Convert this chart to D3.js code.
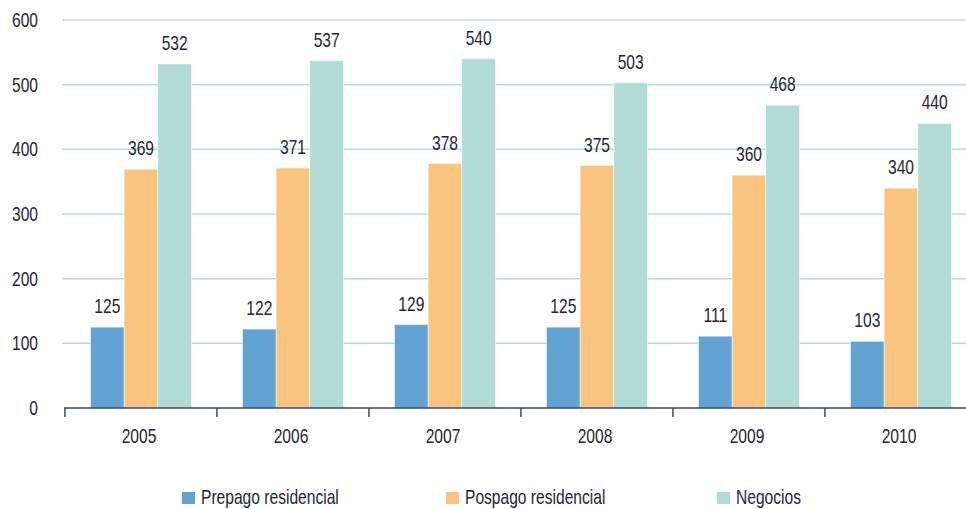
<!DOCTYPE html>
<html>
<head>
<meta charset="utf-8">
<script src="https://cdn.jsdelivr.net/npm/d3@7"></script>
<style>
  body { margin: 0; background: #fff; }
  svg text { font-family: "Liberation Sans", Arial, sans-serif; fill: #1f2633; font-size: 20px; }
</style>
</head>
<body>
<div id="chart"></div>
<script>
// datos
const years = ["2005", "2006", "2007", "2008", "2009", "2010"];
const seriesNames = ["Prepago residencial", "Pospago residencial", "Negocios"];
const prepago = [125, 122, 129, 125, 111, 103];
const pospago = [369, 371, 378, 375, 360, 340];
const negocios = [532, 537, 540, 503, 468, 440];
const yTicks = [0, 100, 200, 300, 400, 500, 600];

const colors = ["#63a3d3", "#f9c47f", "#b1dbd4"];
const values = [prepago, pospago, negocios];

const width = 966, height = 509;
const narrow = 0.78; // simula una fuente condensada

const svg = d3.select("#chart").append("svg")
    .attr("width", width)
    .attr("height", height);

// texto condensado: posicion con translate + scale horizontal
function place(sel, fx, fy) {
    return sel.attr("transform", (d, i) => `translate(${fx(d, i)},${fy(d, i)}) scale(${narrow},1)`);
}

// escalas
const x = d3.scaleBand()
    .domain(years)
    .range([65, 977])
    .padding(0);

const xInner = d3.scaleBand()
    .domain(seriesNames)
    .range([25.5, x.bandwidth() - 25.5])
    .padding(0);

const y = d3.scaleLinear()
    .domain([0, 600])
    .range([408, 20]);

// lineas de la grilla
svg.append("g")
    .selectAll("line")
    .data(yTicks.filter(d => d > 0))
    .enter().append("line")
    .attr("x1", 62)
    .attr("x2", width)
    .attr("y1", d => y(d))
    .attr("y2", d => y(d))
    .attr("stroke", "#b3ded7")
    .attr("stroke-width", 1.5);

// eje y (solo etiquetas)
place(svg.append("g")
    .selectAll("text")
    .data(yTicks)
    .enter().append("text")
    .attr("dy", "0.35em")
    .attr("text-anchor", "end")
    .text(d => d), () => 38, d => y(d));

// barras
const groups = svg.append("g")
    .selectAll("g")
    .data(years)
    .enter().append("g")
    .attr("transform", d => `translate(${x(d)},0)`);

groups.each(function (year, i) {
    const g = d3.select(this);
    seriesNames.forEach((name, s) => {
        const v = values[s][i];
        g.append("rect")
            .attr("x", xInner(name))
            .attr("y", y(v))
            .attr("width", xInner.bandwidth())
            .attr("height", y(0) - y(v))
            .attr("fill", colors[s])
            .attr("stroke", "rgba(255,255,255,0.45)")
            .attr("stroke-width", 1);

        g.append("text")
            .attr("text-anchor", "middle")
            .attr("transform", `translate(${xInner(name) + xInner.bandwidth() / 2},${y(v) - 14}) scale(${narrow},1)`)
            .text(v);
    });
});

// eje x
const xAxis = svg.append("g")
    .attr("transform", `translate(0,${y(0)})`)
    .call(d3.axisBottom(x).tickSize(0).tickFormat(""));
xAxis.select(".domain")
    .attr("d", `M64,0H${width}`)
    .attr("stroke", "#2c4a6e")
    .attr("stroke-width", 1.5);

svg.append("g")
    .selectAll("line")
    .data(years)
    .enter().append("line")
    .attr("x1", d => x(d))
    .attr("x2", d => x(d))
    .attr("y1", y(0))
    .attr("y2", y(0) + 9)
    .attr("stroke", "#2c4a6e")
    .attr("stroke-width", 1.5);

place(svg.append("g")
    .selectAll("text")
    .data(years)
    .enter().append("text")
    .attr("text-anchor", "middle")
    .text(d => d), d => x(d) + x.bandwidth() / 2 - 2, () => 443);

// leyenda
const legendX = [182, 446, 717];
const legend = svg.append("g")
    .selectAll("g")
    .data(seriesNames)
    .enter().append("g")
    .attr("transform", (d, i) => `translate(${legendX[i]},0)`);

legend.append("rect")
    .attr("x", 0)
    .attr("y", 492)
    .attr("width", 13)
    .attr("height", 12)
    .attr("fill", (d, i) => colors[i]);

legend.append("text")
    .attr("transform", `translate(19,504) scale(${narrow},1)`)
    .text(d => d);
</script>
</body>
</html>
